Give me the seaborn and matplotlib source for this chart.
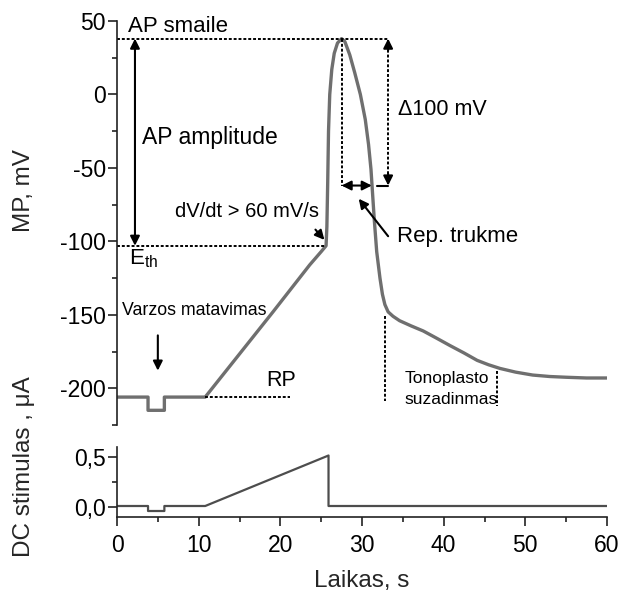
import matplotlib
matplotlib.use("Agg")
import matplotlib.pyplot as plt
from matplotlib.ticker import MultipleLocator, FixedLocator, FixedFormatter
import pandas as pd
import seaborn as sns

# Membrane potential trace (time in s, potential in mV)
mp_time = [0, 3.8, 3.8, 5.8, 5.8, 10.8, 19.1, 23.6, 25.0, 25.6, 25.7, 25.8, 25.9,
           26.05, 26.3, 26.6, 27.0, 27.5, 27.9, 28.5, 29.1, 29.8, 30.4, 30.8, 31.1,
           31.5, 31.8, 32.2, 32.5, 32.8, 33.2, 33.8, 34.6, 36.0, 37.5, 39.0, 40.8,
           42.5, 44.1, 45.5, 46.9, 48.8, 50.9, 53.0, 55.0, 57.5, 60.0]
mp_value = [-206, -206, -215, -215, -206, -206, -148, -116, -107, -103, -90, -60, -25,
            0, 17, 28, 35, 38, 36, 27, 15, 0, -17, -34, -51,
            -85, -107, -125, -136, -143, -148, -151, -154, -157.5, -161, -165.5, -171,
            -176, -181, -184, -186.5, -189, -191, -192, -192.5, -193, -193]

# DC stimulus current (time in s, current in uA)
dc_time = [0, 3.8, 3.8, 5.8, 5.8, 10.8, 25.9, 25.9, 60]
dc_value = [0.01, 0.01, -0.04, -0.04, 0.01, 0.01, 0.515, 0.01, 0.01]

x_ticks = [0, 10, 20, 30, 40, 50, 60]
mp_ticks = [50, 0, -50, -100, -150, -200]
dc_ticks = [0.0, 0.5]
dc_tick_labels = ["0,0", "0,5"]

# Characteristic levels of the action potential
ap_peak = 38
ap_threshold = -103
rest_level = -206
peak_time = 27.5
threshold_time = 25.6
rep_end_time = 31.2
delta_x = 33.2

sns.set_style("ticks")
plt.rcParams["font.family"] = ["Liberation Sans", "DejaVu Sans"]
plt.rcParams["mathtext.fontset"] = "custom"
plt.rcParams["mathtext.rm"] = "Liberation Sans"
plt.rcParams["mathtext.it"] = "Liberation Sans:italic"
plt.rcParams["axes.unicode_minus"] = False

fig = plt.figure(figsize=(6.2, 5.92), dpi=100)
ax = fig.add_axes([117 / 620, 1 - 425 / 592, 490 / 620, 404 / 592])
ax2 = fig.add_axes([117 / 620, 1 - 517 / 592, 490 / 620, 70 / 592])

mp_df = pd.DataFrame({"t": mp_time, "v": mp_value})
dc_df = pd.DataFrame({"t": dc_time, "i": dc_value})

sns.lineplot(data=mp_df, x="t", y="v", ax=ax, sort=False, estimator=None,
             color="#6f6f6f", linewidth=2.4)
sns.lineplot(data=dc_df, x="t", y="i", ax=ax2, sort=False, estimator=None,
             color="#4d4d4d", linewidth=1.6)

spine_col = "#222222"
for a in (ax, ax2):
    a.set_xlim(0, 60)
    for s in ("top", "right"):
        a.spines[s].set_visible(False)
    for s in ("left", "bottom"):
        a.spines[s].set_color(spine_col)
        a.spines[s].set_linewidth(1.2)
    a.tick_params(which="major", direction="out", length=6.5, width=1.2,
                  color=spine_col, labelsize=16.5, labelcolor="black")
    a.tick_params(which="minor", direction="out", length=3.8, width=1.2, color=spine_col)
    a.tick_params(axis="y", which="major", pad=1.5)
    a.tick_params(axis="x", which="major", pad=6)

ax.spines["bottom"].set_visible(False)
ax.set_ylim(-225, 50)
ax.yaxis.set_major_locator(FixedLocator(mp_ticks))
ax.yaxis.set_minor_locator(MultipleLocator(25))
ax.set_xticks([])
ax.xaxis.set_minor_locator(FixedLocator([]))
ax.set_xlabel("")
ax.set_ylabel("MP, mV", fontsize=17.5)
ax.yaxis.set_label_coords(-0.168, 0.58)

ax2.set_ylim(-0.1, 0.6)
ax2.yaxis.set_major_locator(FixedLocator(dc_ticks))
ax2.yaxis.set_major_formatter(FixedFormatter(dc_tick_labels))
ax2.yaxis.set_minor_locator(FixedLocator([0.25]))
ax2.xaxis.set_major_locator(FixedLocator(x_ticks))
ax2.xaxis.set_minor_locator(MultipleLocator(5))
ax2.set_xlabel("Laikas, s", fontsize=17.5, labelpad=9)
ax2.set_ylabel("DC stimulas , \u03bcA", fontsize=17.5)
ax2.yaxis.set_label_coords(-0.168, 0.72)

# Dotted guide lines
dot = dict(color="black", linewidth=1.4, linestyle=(0, (1.5, 1.0)), clip_on=False)
ax.plot([0, delta_x], [ap_peak, ap_peak], **dot)
ax.plot([0, threshold_time], [ap_threshold, ap_threshold], **dot)
ax.plot([peak_time, peak_time], [ap_peak, ap_peak - 100], **dot)
ax.plot([delta_x, delta_x], [ap_peak - 1, ap_peak - 99], **dot)
ax.plot([10.8, 21.2], [rest_level, rest_level], **dot)
ax.plot([32.8, 32.8], [-151, -209], **dot)
ax.plot([46.5, 46.5], [-188, -212], **dot)

arrow = dict(arrowstyle="-|>", color="black", lw=1.5, mutation_scale=14,
             shrinkA=0, shrinkB=0)
darrow = dict(arrowstyle="<|-|>", color="black", lw=1.5, mutation_scale=14,
              shrinkA=0, shrinkB=0)

# AP amplitude double arrow
ax.annotate("", xy=(2.2, ap_peak), xytext=(2.2, ap_threshold), arrowprops=darrow)
# Repolarisation duration double arrow
ax.annotate("", xy=(peak_time, ap_peak - 100), xytext=(rep_end_time, ap_peak - 100),
            arrowprops=darrow)
# Short tick joining the delta arrow
ax.plot([31.8, delta_x], [ap_peak - 100, ap_peak - 100], color="black", lw=1.5)
# Heads of the 100 mV arrow
ax.annotate("", xy=(delta_x, ap_peak), xytext=(delta_x, ap_peak - 8), arrowprops=arrow)
ax.annotate("", xy=(delta_x, ap_peak - 100), xytext=(delta_x, ap_peak - 92),
            arrowprops=arrow)
# Pointer to threshold
ax.annotate("", xy=(25.4, -99), xytext=(24.3, -92), arrowprops=arrow)
# Pointer to repolarisation arrow
ax.annotate("", xy=(29.6, -71), xytext=(33.2, -96.5), arrowprops=arrow)
# Pointer to the resistance measurement pulse
ax.annotate("", xy=(5.0, -188), xytext=(5.0, -164), arrowprops=arrow)

txt = dict(color="black", va="center", ha="left")
ax.text(1.35, 46.5, "AP smaile", fontsize=16, **txt)
ax.text(3.05, -29, "AP amplitude", fontsize=16.5, **txt)
ax.text(7.1, -80, "dV/dt > 60 mV/s", fontsize=14.5, **txt)
ax.text(1.5, -112, "E$_{\\mathrm{th}}$", fontsize=16, **txt)
ax.text(0.6, -147, "Varzos matavimas", fontsize=12.8, **txt)
ax.text(18.3, -195, "RP", fontsize=15.5, **txt)
ax.text(35.2, -200.5, "Tonoplasto\nsuzadinmas", fontsize=12.5, linespacing=1.45, **txt)
ax.text(34.4, -10, "\u0394100 mV", fontsize=15.5, **txt)
ax.text(34.3, -97, "Rep. trukme", fontsize=16, **txt)

fig.savefig("out.png", dpi=100)
